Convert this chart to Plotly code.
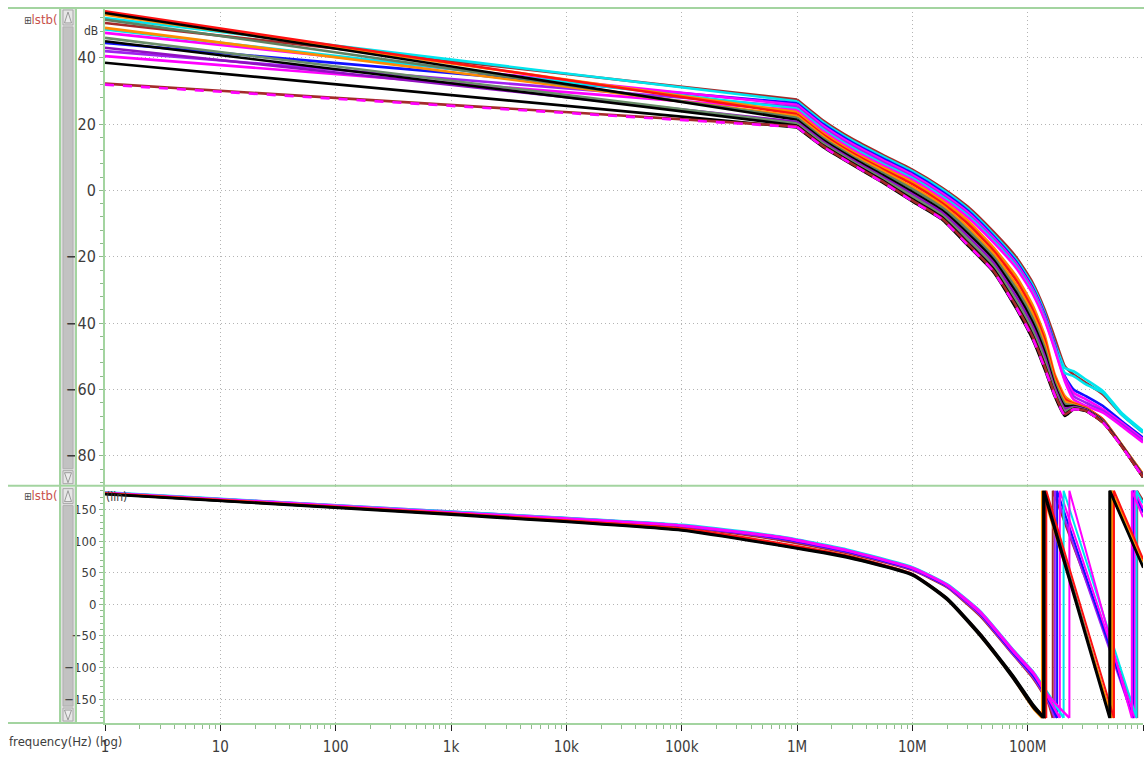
import plotly.graph_objects as go

# ---------------- canvas ----------------
W, H = 1144, 757
ML, MR, MT, MB = 105, 1, 8, 32
PW, PH = W - ML - MR, H - MT - MB
SPLIT_PX = 487          # pixel row separating the gain and phase panels

FONT = "DejaVu Sans Condensed, DejaVu Sans, sans-serif"
GREEN = "#a3d4a0"
GRID = "#b4b4b4"
TXT = "#3c3c3c"

# ---------------- loop gain magnitude (dB) ----------------
MAG_FREQ = [1, 1e6, 1.7e6, 3e6, 5.5e6, 1e7, 1.8e7, 3e7, 5e7, 8e7, 1.1e8,
            1.4e8, 1.7e8, 2.1e8, 2.5e8, 3.2e8, 4.5e8, 6.5e8, 1e9]

MAG_COLORS = ["#a52a2a", "#00e5ee", "#1010ff", "#ff00ff", "#a020f0", "#00e5ee",
              "#ff00ff", "#ff8c00", "#ff1010", "#ff8c00", "#5f8060", "#000000",
              "#9010c0", "#6b8e6b", "#000000", "#000000", "#a52a2a", "#ff00ff"]
MAG_DASH = ["solid"] * 17 + ["dash"]

MAG_DB = [
    [50.5, 27.4, 21.0, 15.6, 10.8, 6.3, 0.9, -4.8, -12.3, -20.2, -27.7, -35.8, -44.0, -53.0, -55.5, -58.0, -61.5, -67.5, -73.0],
    [52.0, 26.9, 20.5, 15.1, 10.3, 5.8, 0.4, -5.4, -13.0, -21.0, -28.5, -36.8, -45.5, -53.5, -54.5, -57.0, -60.5, -67.0, -72.5],
    [44.5, 26.3, 19.9, 14.5, 9.7, 5.2, -0.3, -6.0, -13.6, -21.6, -29.2, -37.4, -46.0, -56.0, -60.0, -62.0, -65.0, -69.5, -74.5],
    [47.5, 25.8, 19.4, 14.0, 9.2, 4.7, -0.8, -6.5, -14.1, -22.1, -29.7, -37.9, -46.5, -56.5, -61.0, -63.0, -66.0, -70.0, -75.0],
    [42.0, 25.2, 18.8, 13.4, 8.6, 4.1, -1.4, -7.1, -14.6, -22.6, -30.2, -38.3, -47.0, -57.0, -62.0, -64.0, -66.5, -70.5, -75.5],
    [48.5, 24.7, 18.3, 12.9, 8.1, 3.7, -1.8, -7.5, -15.0, -23.0, -30.6, -38.6, -47.0, -55.0, -56.0, -58.5, -61.0, -67.5, -73.0],
    [40.5, 24.2, 17.8, 12.4, 7.6, 3.2, -2.3, -8.0, -15.5, -23.5, -31.0, -39.0, -47.5, -57.5, -63.0, -65.0, -67.0, -71.0, -76.0],
    [53.0, 23.6, 17.2, 11.8, 7.0, 2.6, -3.0, -9.0, -17.0, -26.0, -34.5, -43.5, -55.0, -62.0, -64.0, -65.5, -69.0, -76.5, -85.5],
    [54.0, 23.0, 16.7, 11.3, 6.4, 1.9, -3.7, -9.9, -17.9, -27.2, -35.8, -44.8, -55.8, -62.8, -64.3, -65.6, -69.1, -76.6, -85.6],
    [49.0, 22.4, 16.2, 10.8, 5.9, 1.1, -4.4, -10.9, -18.9, -28.5, -37.1, -46.1, -56.7, -63.5, -64.5, -65.8, -69.3, -76.6, -85.8],
    [51.5, 21.9, 15.6, 10.3, 5.3, 0.4, -5.1, -11.8, -19.8, -29.7, -38.4, -47.4, -57.5, -64.3, -64.8, -65.9, -69.4, -76.7, -85.9],
    [53.5, 21.3, 15.1, 9.8, 4.7, -0.4, -5.9, -12.8, -20.7, -30.9, -39.7, -48.7, -58.4, -65.0, -65.0, -66.0, -69.5, -76.8, -86.0],
    [43.0, 20.7, 14.6, 9.3, 4.1, -1.1, -6.6, -13.7, -21.6, -32.1, -40.9, -49.9, -59.2, -65.8, -65.3, -66.1, -69.6, -76.8, -86.1],
    [46.0, 20.2, 14.1, 8.8, 3.6, -1.8, -7.3, -14.6, -22.6, -33.4, -42.2, -51.2, -60.0, -66.5, -65.5, -66.3, -69.8, -76.9, -86.3],
    [45.0, 19.6, 13.5, 8.3, 3.0, -2.6, -8.0, -15.6, -23.5, -34.6, -43.5, -52.5, -60.9, -67.3, -65.8, -66.4, -69.9, -76.9, -86.4],
    [38.5, 19.0, 13.0, 7.8, 2.4, -3.3, -8.7, -16.5, -24.4, -35.8, -44.8, -53.8, -61.7, -68.0, -66.0, -66.5, -70.0, -77.0, -86.5],
    [32.2, 19.3, 13.3, 8.0, 2.7, -3.0, -8.4, -16.0, -24.0, -35.0, -44.0, -53.0, -61.0, -67.5, -65.9, -66.4, -70.0, -77.0, -86.4],
    [31.9, 19.1, 13.1, 7.9, 2.5, -3.2, -8.6, -16.3, -24.2, -35.4, -44.4, -53.4, -61.4, -67.8, -66.0, -66.5, -70.0, -77.0, -86.5],
]

# ---------------- loop gain phase (deg) ----------------
PH_FREQ_LOW = [1, 1e3, 1e5, 7e5, 2.7e6, 1e7, 2e7, 3.9e7, 7.5e7, 1.12e8]

PH_COLORS = ["#a52a2a", "#a020f0", "#1010ff", "#ff00ff", "#00e5ee", "#ff00ff",
             "#6b8e6b", "#ff8c00", "#ff1010", "#000000", "#000000"]

PH_LOW = [
    [176.0, 145, 123, 102, 81, 54, 27, -19, -80, -118],
    [176.5, 146, 124, 104, 83, 55, 28, -17, -79, -116],
    [177.0, 146, 125, 105, 84, 56, 29, -15, -77, -113],
    [177.0, 147, 125, 106, 85, 57, 30, -14, -75, -110],
    [177.5, 147, 126, 108, 87, 59, 32, -11, -72, -107],
    [177.0, 146, 125, 107, 86, 58, 31, -12, -73, -108],
    [175.0, 143, 118, 95, 75, 47, 9, -48, -114, -160],
    [175.5, 144, 119, 96, 77, 47, 8, -50, -117, -165],
    [175.5, 144, 120, 97, 77, 48, 9, -48, -115, -162],
    [175.0, 143, 118, 94, 76, 48, 10, -47, -113, -159],
    [174.5, 142, 117, 93, 74, 46, 7, -51, -118, -164],
]

# high-frequency part of each phase trace, including the +/-180 wraps
PH_TAIL_FREQ = [
    [1.5e8, 1.65e8, 1.65e8, 8.9e8, 8.9e8, 1e9],
    [1.5e8, 1.72e8, 1.72e8, 8.2e8, 8.2e8, 1e9],
    [1.5e8, 1.8e8, 1.8e8, 8.3e8, 8.3e8, 1e9],
    [1.5e8, 1.9e8, 1.9e8, 8.5e8, 8.5e8, 1e9],
    [1.5e8, 2.05e8, 2.05e8, 8.8e8, 8.8e8, 1e9],
    [1.5e8, 2.3e8, 2.3e8, 8.0e8, 8.0e8, 1e9],
    [1.42e8, 1.42e8, 5.3e8, 5.3e8, 1e9],
    [1.33e8, 1.33e8, 5.4e8, 5.4e8, 1e9],
    [1.45e8, 1.45e8, 5.6e8, 5.6e8, 1e9],
    [1.4e8, 1.4e8, 5.2e8, 5.2e8, 1e9],
    [1.36e8, 1.36e8, 5.1e8, 5.1e8, 1e9],
]
PH_TAIL_DEG = [
    [-155, -180, 180, -180, 180, 165],
    [-153, -180, 180, -180, 180, 145],
    [-150, -180, 180, -180, 180, 147],
    [-147, -180, 180, -180, 180, 152],
    [-141, -180, 180, -180, 180, 160],
    [-144, -180, 180, -180, 180, 138],
    [-180, 180, -180, 180, 62],
    [-180, 180, -180, 180, 68],
    [-180, 180, -180, 180, 72],
    [-180, 180, -180, 180, 60],
    [-180, 180, -180, 180, 58],
]

# ---------------- axis ticks ----------------
X_TICKVALS = [1, 10, 100, 1e3, 1e4, 1e5, 1e6, 1e7, 1e8, 1e9]
X_TICKTEXT = ["1", "10", "100", "1k", "10k", "100k", "1M", "10M", "100M", "1G"]
X_MINOR = [m * 10 ** d for d in range(9) for m in range(2, 10)]
DB_TICKS = [-80, -60, -40, -20, 0, 20, 40]
DEG_TICKS = [-150, -100, -50, 0, 50, 100, 150]


def fx(px):
    return (px - ML) / PW


def fy(py):
    return (H - MB - py) / PH


split = fy(SPLIT_PX)

fig = go.Figure()

for color, dash, vals in zip(MAG_COLORS, MAG_DASH, MAG_DB):
    # straight single-pole slope up to 1 MHz
    fig.add_trace(go.Scatter(x=MAG_FREQ[:2], y=vals[:2], mode="lines",
                             line=dict(color=color, width=2.6, dash=dash),
                             xaxis="x2", yaxis="y", hoverinfo="skip",
                             showlegend=False))
    # high-frequency roll-off
    fig.add_trace(go.Scatter(x=MAG_FREQ[1:], y=vals[1:], mode="lines",
                             line=dict(color=color, width=2.6, dash=dash,
                                       shape="spline", smoothing=0.5),
                             xaxis="x2", yaxis="y", hoverinfo="skip",
                             showlegend=False))

for color, low, tf, td in zip(PH_COLORS, PH_LOW, PH_TAIL_FREQ, PH_TAIL_DEG):
    xs = PH_FREQ_LOW + tf
    ys = low + td
    cut = len(low) + td.index(-180)          # first wrap point
    # smooth roll-off up to the first -180 crossing
    fig.add_trace(go.Scatter(x=xs[:cut + 1], y=ys[:cut + 1], mode="lines",
                             line=dict(color=color, width=2.4,
                                       shape="spline", smoothing=0.5),
                             xaxis="x", yaxis="y2", hoverinfo="skip",
                             showlegend=False))
    # wrapped part with its vertical jumps
    fig.add_trace(go.Scatter(x=xs[cut:], y=ys[cut:], mode="lines",
                             line=dict(color=color, width=2),
                             xaxis="x", yaxis="y2", hoverinfo="skip",
                             showlegend=False))

grid = dict(showgrid=True, gridcolor=GRID, griddash="1px,3px", gridwidth=1,
            zeroline=False)

fig.update_layout(
    width=W, height=H,
    margin=dict(l=ML, r=MR, t=MT, b=MB, pad=0),
    paper_bgcolor="white", plot_bgcolor="white",
    font=dict(family=FONT, color=TXT),
    xaxis=dict(type="log", range=[0, 9], domain=[0, 1], anchor="y2",
               tickvals=X_TICKVALS, ticktext=X_TICKTEXT,
               ticks="outside", ticklen=6, tickcolor="#202020", tickwidth=1,
               tickfont=dict(size=15, color=TXT, family=FONT),
               ticklabelstandoff=3,
               showline=True, linecolor=GREEN, linewidth=2,
               minor=dict(tickvals=X_MINOR, ticks="outside", ticklen=4,
                          tickcolor="#8fb98c", showgrid=False),
               **grid),
    xaxis2=dict(type="log", range=[0, 9], domain=[0, 1], anchor="y",
                matches="x", tickvals=X_TICKVALS, showticklabels=False,
                ticks="", showline=False, **grid),
    yaxis=dict(domain=[split, 1], range=[-89, 55], anchor="x2",
               tickvals=DB_TICKS, ticks="outside", ticklen=4,
               tickcolor="#8fb98c",
               tickfont=dict(size=16, color=TXT, family=FONT),
               showline=True, linecolor=GREEN, linewidth=2,
               minor=dict(dtick=4, tick0=0, ticks="outside", ticklen=3,
                          tickcolor="#8fb98c", showgrid=False),
               **grid),
    yaxis2=dict(domain=[0, split], range=[-188, 188], anchor="x",
                tickvals=DEG_TICKS, ticks="outside", ticklen=4,
                tickcolor="#8fb98c",
                tickfont=dict(size=13, color=TXT, family=FONT),
                showline=True, linecolor=GREEN, linewidth=2,
                minor=dict(dtick=10, tick0=0, ticks="outside", ticklen=3,
                           tickcolor="#8fb98c", showgrid=False),
                **grid),
)

shapes = []


def hline(py, x0=8, x1=W, color=GREEN, width=2):
    shapes.append(dict(type="line", xref="paper", yref="paper",
                       x0=fx(x0), x1=fx(x1), y0=fy(py), y1=fy(py),
                       line=dict(color=color, width=width), layer="above"))


def vline(px, y0=8, y1=725, color=GREEN, width=2):
    shapes.append(dict(type="line", xref="paper", yref="paper",
                       x0=fx(px), x1=fx(px), y0=fy(y0), y1=fy(y1),
                       line=dict(color=color, width=width), layer="above"))


def rect(x0, y0, x1, y1, fill, line=None):
    shapes.append(dict(type="rect", xref="paper", yref="paper",
                       x0=fx(x0), x1=fx(x1), y0=fy(y1), y1=fy(y0),
                       fillcolor=fill,
                       line=dict(color=line or fill, width=1), layer="below"))


def tri(xl, xr, ytip, ybase):
    xm = (xl + xr) / 2
    path = "M {} {} L {} {} L {} {} Z".format(fx(xl), fy(ybase), fx(xr), fy(ybase),
                                             fx(xm), fy(ytip))
    shapes.append(dict(type="path", xref="paper", yref="paper", path=path,
                       fillcolor="#ececec", line=dict(color="#9a9a9a", width=1),
                       layer="below"))


# scroll bars beside each panel
for top, bot in [(9, 486), (489, 724)]:
    rect(61, top, 76, bot, "#e0e0e0")
    rect(63, top + 18, 73, bot - 16, "#c2c2c2", "#b0b0b0")
    rect(63, top + 1, 73, top + 16, "#e6e6e6", "#a8a8a8")
    rect(63, bot - 14, 73, bot - 1, "#e6e6e6", "#a8a8a8")
    tri(64.5, 71.5, top + 3, top + 14)
    tri(64.5, 71.5, bot - 2, bot - 12)

hline(8)
hline(SPLIT_PX)
hline(725, x0=8, x1=ML)
vline(60)
vline(76)

annotations = []


def label(text, px, py, size, color=TXT, xanchor="left"):
    annotations.append(dict(text=text, xref="paper", yref="paper",
                            x=fx(px), y=fy(py), xanchor=xanchor,
                            yanchor="middle", showarrow=False,
                            font=dict(family=FONT, size=size, color=color)))


for py in (20, 497):
    label("<span style='color:#444444;font-size:10px'>⊞</span>lstb(", 22, py,
          13, color="#c8504a")
label("dB", 91, 31, 12, xanchor="center")
label("(lin)", 104, 498, 12)
label("frequency(Hz) (log)", 7, 744, 13)

fig.update_layout(shapes=shapes, annotations=annotations)

fig.write_html("out.html", include_plotlyjs=True, full_html=True,
               config=dict(displayModeBar=False))
